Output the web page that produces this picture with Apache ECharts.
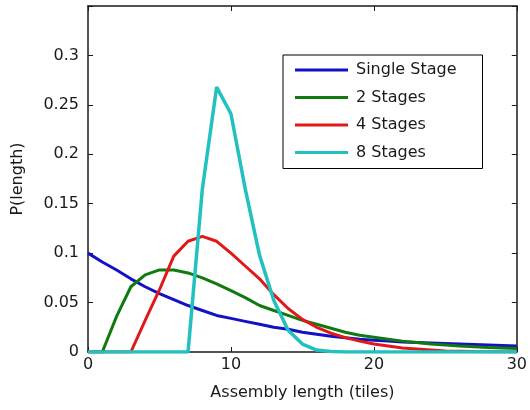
<!DOCTYPE html>
<html>
<head>
<meta charset="utf-8">
<script src="https://cdn.jsdelivr.net/npm/echarts@6/dist/echarts.min.js"></script>
<style>
  html, body { margin: 0; padding: 0; background: #fff; }
  #chart { width: 530px; height: 410px; }
</style>
</head>
<body>
<div id="chart"></div>
<script>
// assembly length (tiles)
const lengths = [0, 1, 2, 3, 4, 5, 6, 7, 8, 9, 10, 11, 12, 13, 14, 15, 16, 17, 18, 19, 20,
                 21, 22, 23, 24, 25, 26, 27, 28, 29, 30];

const singleStage = [0.1, 0.091, 0.083, 0.074, 0.066, 0.059, 0.053, 0.047, 0.042, 0.037, 0.034,
                     0.031, 0.028, 0.025, 0.023, 0.020, 0.018, 0.016, 0.0145, 0.013, 0.012,
                     0.011, 0.010, 0.0095, 0.009, 0.0085, 0.008, 0.0075, 0.007, 0.0065, 0.006];
const twoStages   = [0, 0, 0.036, 0.066, 0.078, 0.083, 0.083, 0.080, 0.075, 0.069, 0.062,
                     0.055, 0.047, 0.042, 0.037, 0.032, 0.028, 0.024, 0.020, 0.017, 0.015,
                     0.013, 0.011, 0.0095, 0.008, 0.007, 0.006, 0.0052, 0.0045, 0.004, 0.0035];
const fourStages  = [0, 0, 0, 0, 0.032, 0.063, 0.097, 0.112, 0.117, 0.112, 0.1,
                     0.087, 0.074, 0.058, 0.044, 0.033, 0.025, 0.019, 0.0145, 0.011, 0.008,
                     0.006, 0.004, 0.003, 0.002, 0.001, 0.0008, 0.0005, 0.0003, 0.0002, 0.0001];
const eightStages = [0, 0, 0, 0, 0, 0, 0, 0, 0.165, 0.268, 0.241,
                     0.165, 0.098, 0.052, 0.022, 0.008, 0.002, 0.0005, 0.0001, 0, 0,
                     0, 0, 0, 0, 0, 0, 0, 0, 0, 0];

const seriesNames = ['Single Stage', '2 Stages', '4 Stages', '8 Stages'];
const seriesColors = ['#1212c4', '#107a10', '#e01818', '#22c0c0'];
const xTickLabels = ['0', '10', '20', '30'];
const yTickLabels = ['0', '0.05', '0.1', '0.15', '0.2', '0.25', '0.3'];

const font = 'DejaVu Sans';
const ink = '#1a1a1a';

const pairs = vals => lengths.map((x, i) => [x, vals[i]]);

const frameAxis = (extra) => Object.assign({
  type: 'value',
  axisLine: { show: true, onZero: false, lineStyle: { color: ink, width: 1.5 } },
  axisTick: { show: true, inside: true, length: 5, lineStyle: { color: ink, width: 1 } },
  splitLine: { show: false },
  axisLabel: { show: false }
}, extra);

let chart = echarts.init(document.getElementById('chart'), null, { renderer: 'canvas' });

chart.setOption({
  animation: false,
  backgroundColor: '#fff',
  textStyle: { fontFamily: font, color: ink },
  grid: { left: 88, top: 6, right: 10, bottom: 58, containLabel: false },
  legend: {
    orient: 'vertical',
    left: 283,
    top: 55,
    padding: [7, 26, 8, 12],
    itemGap: 11.5,
    itemWidth: 53,
    itemHeight: 3,
    icon: 'rect',
    borderColor: '#000',
    borderWidth: 1,
    backgroundColor: '#fff',
    textStyle: { fontFamily: font, fontSize: 16, color: ink, lineHeight: 16, padding: [0, 0, 0, 3] },
    data: seriesNames
  },
  xAxis: [
    frameAxis({
      min: 0, max: 30, interval: 10,
      name: 'Assembly length (tiles)',
      nameLocation: 'middle',
      nameGap: 33,
      nameTextStyle: { fontFamily: font, fontSize: 16, color: ink, verticalAlign: 'top' },
      axisLabel: {
        show: true, margin: 5, fontFamily: font, fontSize: 16, color: ink,
        formatter: v => xTickLabels[Math.round(v / 10)] || ''
      }
    }),
    frameAxis({ min: 0, max: 30, interval: 10, position: 'top' })
  ],
  yAxis: [
    frameAxis({
      min: 0, max: 0.35, interval: 0.05,
      name: 'P(length)',
      nameLocation: 'middle',
      nameGap: 62,
      nameTextStyle: { fontFamily: font, fontSize: 16, color: ink },
      axisLabel: {
        show: true, margin: 9, fontFamily: font, fontSize: 16, color: ink,
        formatter: v => yTickLabels[Math.round(v / 0.05)] || ''
      }
    }),
    frameAxis({ min: 0, max: 0.35, interval: 0.05, position: 'right' })
  ],
  series: [singleStage, twoStages, fourStages, eightStages].map((vals, i) => ({
    name: seriesNames[i],
    type: 'line',
    data: pairs(vals),
    symbol: 'none',
    clip: true,
    color: seriesColors[i],
    lineStyle: { color: seriesColors[i], width: i === 3 ? 3.5 : 3 },
    z: 2 + i
  }))
});
</script>
</body>
</html>
